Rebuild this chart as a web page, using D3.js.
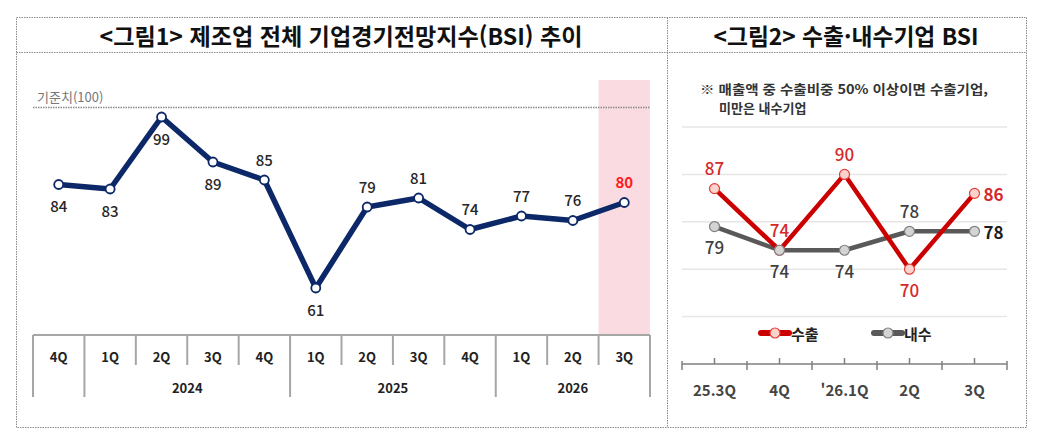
<!DOCTYPE html>
<html lang="ko">
<head>
<meta charset="utf-8">
<script src="https://cdn.jsdelivr.net/npm/d3@7"></script>
<style>
  html, body { margin: 0; padding: 0; background: #fff; }
  svg { display: block; font-family: "Noto Sans CJK KR", "Noto Sans", sans-serif; }
</style>
</head>
<body>
<svg id="chart" width="1037" height="442"></svg>
<script>
"use strict";

// ---- data: <그림1> 제조업 전체 BSI ----
const bsiQuarters = ["4Q", "1Q", "2Q", "3Q", "4Q", "1Q", "2Q", "3Q", "4Q", "1Q", "2Q", "3Q"];
const bsiYearOf   = ["2023", "2024", "2024", "2024", "2024", "2025", "2025", "2025", "2025", "2026", "2026", "2026"];
const bsiYearsShown = ["2024", "2025", "2026"];
const bsiValues   = [84, 83, 99, 89, 85, 61, 79, 81, 74, 77, 76, 80];
const bsiBaseline = 100;

// ---- data: <그림2> 수출·내수기업 BSI ----
const tradeQuarters = ["25.3Q", "4Q", "'26.1Q", "2Q", "3Q"];
const exportBsi     = [87, 74, 90, 70, 86];
const domesticBsi   = [79, 74, 74, 78, 78];
const tradeGrid     = [60, 70, 80, 90, 100];

const svg = d3.select("#chart");

//-----------------------------------------------------------------------------------
// frame: dotted table borders and the two titles
const frame = svg.append("g").attr("fill", "none").attr("stroke", "#8c8c8c")
  .attr("stroke-width", 1).attr("stroke-dasharray", "1.5,1");
frame.append("rect").attr("x", 16.5).attr("y", 17.5).attr("width", 1010).attr("height", 410);
frame.append("line").attr("x1", 667.5).attr("x2", 667.5).attr("y1", 17.5).attr("y2", 427.5);
frame.append("line").attr("x1", 16.5).attr("x2", 1026.5).attr("y1", 52.5).attr("y2", 52.5);

svg.append("text").attr("x", 341).attr("y", 35).attr("text-anchor", "middle")
  .attr("dominant-baseline", "central").attr("font-size", 23).attr("font-weight", 700)
  .attr("fill", "#111").attr("textLength", 483).attr("lengthAdjust", "spacingAndGlyphs")
  .text("<그림1> 제조업 전체 기업경기전망지수(BSI) 추이");

svg.append("text").attr("x", 846).attr("y", 35).attr("text-anchor", "middle")
  .attr("dominant-baseline", "central").attr("font-size", 23).attr("font-weight", 700)
  .attr("fill", "#111").attr("textLength", 265).attr("lengthAdjust", "spacingAndGlyphs")
  .text("<그림2> 수출·내수기업 BSI");

//-----------------------------------------------------------------------------------
// L1: 제조업 전체 BSI line chart
const x1 = d3.scaleBand().domain(d3.range(bsiValues.length)).range([33, 650]);
const y1 = d3.scaleLinear().domain([50, 110]).range([337.5, 67.5]);
const axisY1 = 335;

const g1 = svg.append("g");

// highlight of the latest (forecast) quarter
const last = bsiValues.length - 1;
g1.append("rect")
  .attr("x", x1(last)).attr("width", x1.bandwidth())
  .attr("y", 80).attr("height", axisY1 - 80)
  .attr("fill", "#fadbe1");

// 기준치 line
g1.append("line")
  .attr("x1", 33).attr("x2", 650)
  .attr("y1", y1(bsiBaseline) - 5).attr("y2", y1(bsiBaseline) - 5)
  .attr("stroke", "#8a8a8a").attr("stroke-width", 1.5).attr("stroke-dasharray", "1.5,1");
g1.append("text").attr("x", 37).attr("y", y1(bsiBaseline) - 11)
  .attr("font-size", 13).attr("fill", "#777").text("기준치(100)");

// category axis drawn like a table
const axis1 = g1.append("g").attr("stroke", "#a6a6a6").attr("stroke-width", 2);
axis1.append("line").attr("x1", 33).attr("x2", 650).attr("y1", axisY1).attr("y2", axisY1);
d3.range(bsiValues.length + 1).forEach(i => {
  const bx = i < bsiValues.length ? x1(i) : x1.range()[1];
  const yearEdge = i === 0 || i === bsiValues.length || bsiYearOf[i] !== bsiYearOf[i - 1];
  axis1.append("line").attr("x1", bx).attr("x2", bx)
    .attr("y1", axisY1).attr("y2", yearEdge ? 397 : 365);
});

g1.selectAll(".qlabel").data(bsiQuarters).enter().append("text")
  .attr("class", "qlabel")
  .attr("x", (d, i) => x1(i) + x1.bandwidth() / 2).attr("y", 356)
  .attr("text-anchor", "middle").attr("dominant-baseline", "central")
  .attr("font-size", 13).attr("font-weight", 700).attr("fill", "#222")
  .text(d => d);

g1.selectAll(".ylabel").data(bsiYearsShown).enter().append("text")
  .attr("class", "ylabel")
  .attr("x", d => {
    const idx = bsiYearOf.map((v, i) => v === d ? i : -1).filter(i => i >= 0);
    const a = x1(idx[0]);
    const b = x1(idx[idx.length - 1]) + x1.bandwidth();
    return (a + b) / 2;
  })
  .attr("y", 387).attr("text-anchor", "middle").attr("dominant-baseline", "central")
  .attr("font-size", 13).attr("font-weight", 700).attr("fill", "#222")
  .text(d => d);

// the line
const line1 = d3.line()
  .x((d, i) => x1(i) + x1.bandwidth() / 2)
  .y(d => y1(d));

g1.append("path").datum(bsiValues)
  .attr("d", line1).attr("fill", "none")
  .attr("stroke", "#0c2868").attr("stroke-width", 5.5).attr("stroke-linejoin", "round");

g1.selectAll(".dot").data(bsiValues).enter().append("circle")
  .attr("class", "dot")
  .attr("cx", (d, i) => x1(i) + x1.bandwidth() / 2).attr("cy", d => y1(d))
  .attr("r", 4.5).attr("fill", "#fff").attr("stroke", "#0c2868").attr("stroke-width", 1.8);

// value labels: which side of the point they sit on
const bsiLabelSide = [1, 1, 1, 1, -1, 1, -1, -1, -1, -1, -1, -1];
g1.selectAll(".val").data(bsiValues).enter().append("text")
  .attr("class", "val")
  .attr("x", (d, i) => x1(i) + x1.bandwidth() / 2)
  .attr("y", (d, i) => y1(d) + bsiLabelSide[i] * 21)
  .attr("text-anchor", "middle").attr("dominant-baseline", "central")
  .attr("font-size", 15)
  .attr("font-weight", (d, i) => i === last ? 700 : 500)
  .attr("fill", (d, i) => i === last ? "#ff1a1a" : "#262626")
  .text(d => d);

//-----------------------------------------------------------------------------------
// L2: 수출·내수기업 BSI line chart
const x2 = d3.scaleBand().domain(d3.range(tradeQuarters.length)).range([682, 1007]);
const y2 = d3.scaleLinear().domain([50, 100]).range([364, 127]);
const cx2 = i => x2(i) + x2.bandwidth() / 2;

const g2 = svg.append("g");

// note
g2.append("text").attr("x", 700).attr("y", 88).attr("dominant-baseline", "central")
  .attr("font-size", 13).attr("font-weight", 700).attr("fill", "#333")
  .attr("textLength", 288).attr("lengthAdjust", "spacingAndGlyphs")
  .text("※ 매출액 중 수출비중 50% 이상이면 수출기업,");
g2.append("text").attr("x", 719).attr("y", 107).attr("dominant-baseline", "central")
  .attr("font-size", 13).attr("font-weight", 700).attr("fill", "#333")
  .text("미만은 내수기업");

// gridlines
g2.selectAll(".grid").data(tradeGrid).enter().append("line")
  .attr("class", "grid")
  .attr("x1", 682).attr("x2", 1007)
  .attr("y1", d => y2(d)).attr("y2", d => y2(d))
  .attr("stroke", "#e6e6e6").attr("stroke-width", 1.5);

// x axis
const axisY2 = y2(50);
const axis2 = g2.append("g").attr("stroke", "#7f7f7f").attr("stroke-width", 1.5);
axis2.append("line").attr("x1", 682).attr("x2", 1007).attr("y1", axisY2).attr("y2", axisY2);
d3.range(tradeQuarters.length + 1).forEach(i => {
  const bx = i < tradeQuarters.length ? x2(i) : x2.range()[1];
  axis2.append("line").attr("x1", bx).attr("x2", bx).attr("y1", axisY2 - 3).attr("y2", axisY2 + 6);
});
tradeQuarters.forEach((q, i) => {
  axis2.append("line").attr("x1", cx2(i)).attr("x2", cx2(i)).attr("y1", axisY2 - 6).attr("y2", axisY2);
});

g2.selectAll(".tq").data(tradeQuarters).enter().append("text")
  .attr("class", "tq")
  .attr("x", (d, i) => cx2(i)).attr("y", 389)
  .attr("text-anchor", "middle").attr("dominant-baseline", "central")
  .attr("font-size", 15).attr("font-weight", 700).attr("fill", "#444")
  .text(d => d);

const line2 = d3.line().x((d, i) => cx2(i)).y(d => y2(d));

const redC = "#cc0000", grayC = "#595959";

g2.append("path").datum(domesticBsi).attr("d", line2).attr("fill", "none")
  .attr("stroke", grayC).attr("stroke-width", 4.5).attr("stroke-linejoin", "round");
g2.append("path").datum(exportBsi).attr("d", line2).attr("fill", "none")
  .attr("stroke", redC).attr("stroke-width", 4.5).attr("stroke-linejoin", "round");

g2.selectAll(".edot").data(exportBsi).enter().append("circle")
  .attr("class", "edot")
  .attr("cx", (d, i) => cx2(i)).attr("cy", d => y2(d)).attr("r", 5)
  .attr("fill", "#fcd3cc").attr("stroke", "#e0403a").attr("stroke-width", 1.2);
g2.selectAll(".ddot").data(domesticBsi).enter().append("circle")
  .attr("class", "ddot")
  .attr("cx", (d, i) => cx2(i)).attr("cy", d => y2(d)).attr("r", 5)
  .attr("fill", "#d4d4d4").attr("stroke", "#808080").attr("stroke-width", 1.2);

// label placement: "a" above, "b" below, "r" right of the point
const exportSide   = ["a", "a", "a", "b", "r"];
const domesticSide = ["b", "b", "b", "a", "r"];

function placeLabels(cls, values, sides, color, endColor) {
  g2.selectAll("." + cls).data(values).enter().append("text")
    .attr("class", cls)
    .attr("x", (d, i) => sides[i] === "r" ? cx2(i) + 9 : cx2(i))
    .attr("y", (d, i) => sides[i] === "a" ? y2(d) - 21 : sides[i] === "b" ? y2(d) + 20 : y2(d))
    .attr("text-anchor", (d, i) => sides[i] === "r" ? "start" : "middle")
    .attr("dominant-baseline", "central")
    .attr("font-size", 17).attr("font-weight", (d, i) => sides[i] === "r" ? 700 : 500)
    .attr("fill", (d, i) => sides[i] === "r" ? endColor : color)
    .text(d => d);
}
placeLabels("elab", exportBsi, exportSide, "#d42a2a", "#d42a2a");
placeLabels("dlab", domesticBsi, domesticSide, "#404040", "#1a1a1a");

// legend
const legend = [
  { name: "수출", stroke: redC, fill: "#fcd3cc", edge: "#e0403a", x: 760 },
  { name: "내수", stroke: grayC, fill: "#d4d4d4", edge: "#808080", x: 873 }
];
const lg = g2.selectAll(".lg").data(legend).enter().append("g")
  .attr("class", "lg").attr("transform", d => `translate(${d.x},333)`);
lg.append("line").attr("x1", 1).attr("x2", 29).attr("y1", 0).attr("y2", 0)
  .attr("stroke", d => d.stroke).attr("stroke-width", 6).attr("stroke-linecap", "round");
lg.append("circle").attr("cx", 15).attr("cy", 0).attr("r", 5)
  .attr("fill", d => d.fill).attr("stroke", d => d.edge).attr("stroke-width", 1.2);
lg.append("text").attr("x", 31).attr("y", 0).attr("dominant-baseline", "central")
  .attr("font-size", 15).attr("font-weight", 700).attr("fill", "#222")
  .text(d => d.name);
</script>
</body>
</html>
